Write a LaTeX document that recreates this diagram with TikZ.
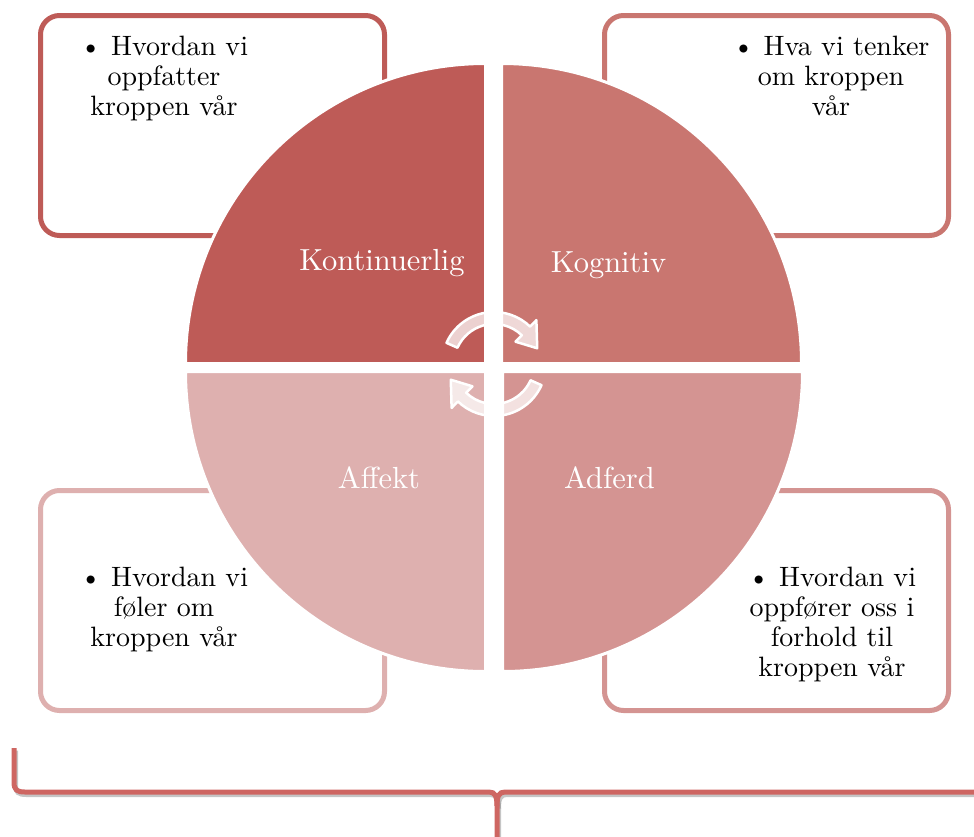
\documentclass[tikz,border=0pt]{standalone}
\usepackage{fontspec}
\setmainfont{lmroman10-regular}[Extension=.otf]
\usetikzlibrary{arrows.meta}
\definecolor{qA}{RGB}{190,91,87}
\definecolor{qB}{RGB}{201,118,112}
\definecolor{qC}{RGB}{212,148,146}
\definecolor{qD}{RGB}{222,176,175}
\definecolor{braceC}{RGB}{206,102,98}
\tikzset{
  boxA/.style={draw=#1, line width=5pt, rounded corners=19pt, fill=white, minimum width=344pt, minimum height=220pt, inner sep=0pt},
  boxtext/.style={align=center, anchor=north, inner sep=0pt, font=\fontsize{28}{30}\selectfont, text=black},
  quadlbl/.style={anchor=base, inner sep=0pt, font=\fontsize{30.5}{34}\selectfont, text=white},
  quad/.style={fill=#1, draw=white, line width=3pt},
  cyc/.style={fill=white, fill opacity=0.72, draw=white, line width=2.5pt, line join=round},
}
\begin{document}
\begin{tikzpicture}[x=1pt,y=-1pt]
\useasboundingbox (0,0) rectangle (974,836);
% boxes
\node[boxA=qA] (boxTL) at (212.5,125.5) {};
\node[boxA=qB] (boxTR) at (776.5,125.5) {};
\node[boxA=qD] (boxBL) at (212.5,600.5) {};
\node[boxA=qC] (boxBR) at (776.5,600.5) {};
% box texts
\node[boxtext] (tTL) at (164,36) {\textbullet\ Hvordan vi\\oppfatter\\kroppen vår};
\node[boxtext] (tTR) at (831,36) {\textbullet\ Hva vi tenker\\om kroppen\\vår};
\node[boxtext] (tBL) at (164,567) {\textbullet\ Hvordan vi\\føler om\\kroppen vår};
\node[boxtext] (tBR) at (832,567) {\textbullet\ Hvordan vi\\oppfører oss i\\forhold til\\kroppen vår};
% quadrants
\draw[quad=qA] (485.5,363.5) -- ++(-300,0) arc[start angle=180,end angle=270,radius=300] -- cycle;
\draw[quad=qB] (501.5,363.5) -- ++(0,-300) arc[start angle=270,end angle=360,radius=300] -- cycle;
\draw[quad=qD] (485.5,371.5) -- ++(-300,0) arc[start angle=180,end angle=90,radius=300] -- cycle;
\draw[quad=qC] (502.5,371.5) -- ++(300,0) arc[start angle=0,end angle=90,radius=300] -- cycle;
% labels
\node[quadlbl] (lK) at (382,270) {Kontinuerlig};
\node[quadlbl] (lG) at (608.5,272) {Kognitiv};
\node[quadlbl] (lA) at (379,488) {Affekt};
\node[quadlbl] (lD) at (609.5,488) {Adferd};
% cycle arrows
\begin{scope}[shift={(494,364)}]
\draw[cyc] (-156:52) arc[start angle=-156,end angle=-46,radius=52] -- (-46:61) -- (-20:46) -- (-46:31) -- (-46:40) arc[start angle=-46,end angle=-156,radius=40] -- cycle;
\draw[cyc] (24:52) arc[start angle=24,end angle=134,radius=52] -- (134:61) -- (160:46) -- (134:31) -- (134:40) arc[start angle=134,end angle=24,radius=40] -- cycle;
\end{scope}
% brace with shadow
\begin{scope}[shift={(1.5,2.5)}]
\draw[black!45, opacity=0.5, line width=5pt] (14,748) -- (14,782) .. controls (14,790) and (17,792) .. (25,792) -- (489,792) .. controls (495,792) and (497,796) .. (497,806) -- (497,850);
\draw[black!45, opacity=0.5, line width=5pt] (990,792) -- (505,792) .. controls (499,792) and (497,796) .. (497,806);
\end{scope}
\draw[braceC, line width=5pt] (14,748) -- (14,782) .. controls (14,790) and (17,792) .. (25,792) -- (489,792) .. controls (495,792) and (497,796) .. (497,806) -- (497,850);
\draw[braceC, line width=5pt] (990,792) -- (505,792) .. controls (499,792) and (497,796) .. (497,806);
\end{tikzpicture}
\end{document}
